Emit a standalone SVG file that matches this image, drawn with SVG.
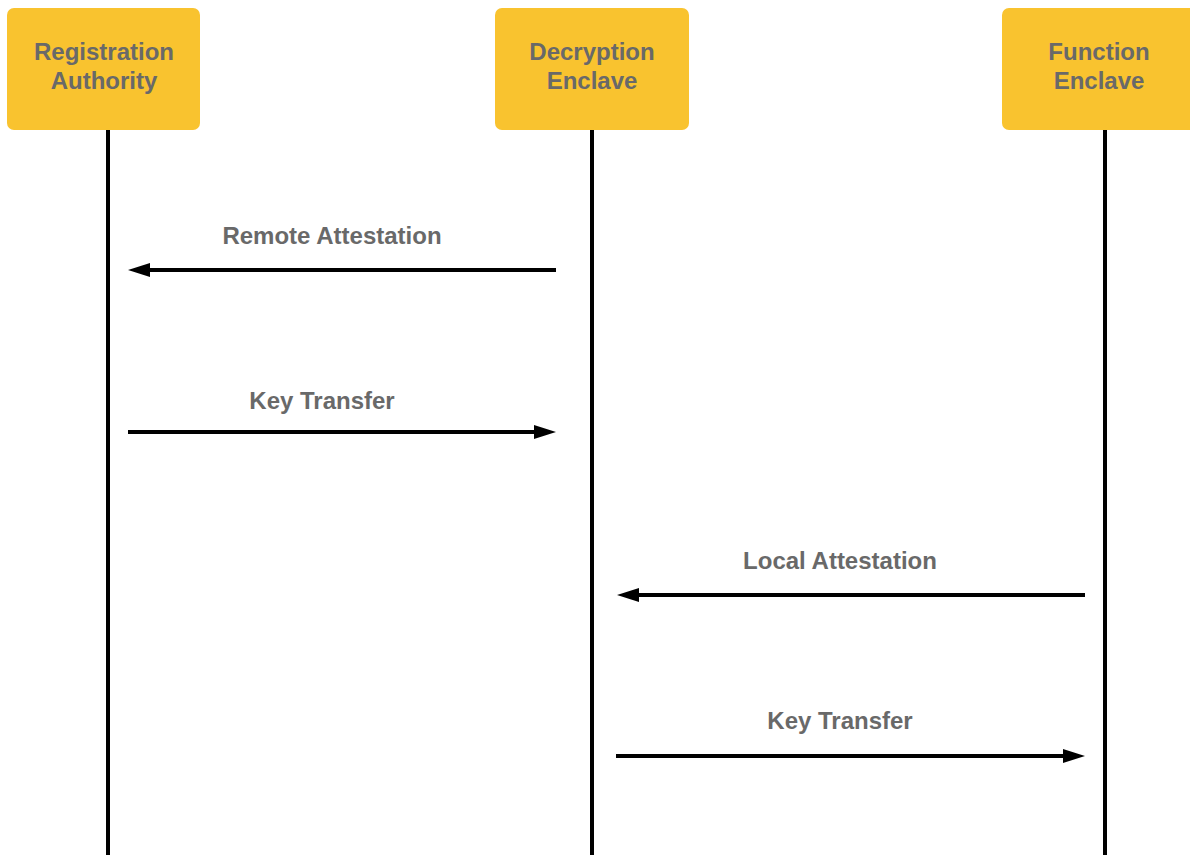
<svg xmlns="http://www.w3.org/2000/svg" width="1190" height="855" viewBox="0 0 1190 855">
<style>
.box{fill:#F9C32F;}
.lbl{font-family:"Liberation Sans",Arial,sans-serif;font-weight:bold;font-size:24px;fill:#696969;text-anchor:middle;}
.life{stroke:#000;stroke-width:4;fill:none;}
.msg{stroke:#000;stroke-width:4;fill:none;marker-end:url(#ah);}
</style>
<defs>
<marker id="ah" markerUnits="userSpaceOnUse" markerWidth="24" markerHeight="16" refX="10" refY="7" orient="auto">
<path d="M0,0 L22,7 L0,14 Z" fill="#000"/>
</marker>
</defs>
<rect width="1190" height="855" fill="#fff"/>
<g id="lifelines">
<line class="life" x1="108" y1="128" x2="108" y2="855"/>
<line class="life" x1="592" y1="128" x2="592" y2="855"/>
<line class="life" x1="1105" y1="128" x2="1105" y2="855"/>
</g>
<g id="registration-authority">
<rect class="box" x="7" y="8" width="193" height="122" rx="7"/>
<text class="lbl" x="104" y="60">Registration</text>
<text class="lbl" x="104" y="89">Authority</text>
</g>
<g id="decryption-enclave">
<rect class="box" x="495" y="8" width="194" height="122" rx="7"/>
<text class="lbl" x="592" y="60">Decryption</text>
<text class="lbl" x="592" y="89">Enclave</text>
</g>
<g id="function-enclave">
<rect class="box" x="1002" y="8" width="206" height="122" rx="7"/>
<text class="lbl" x="1099" y="60">Function</text>
<text class="lbl" x="1099" y="89">Enclave</text>
</g>
<g id="connectors">
<line class="msg" x1="556" y1="270" x2="140" y2="270"/>
<text class="lbl" x="332" y="244">Remote Attestation</text>
<line class="msg" x1="128" y1="432" x2="544" y2="432"/>
<text class="lbl" x="322" y="409">Key Transfer</text>
<line class="msg" x1="1085" y1="595" x2="629" y2="595"/>
<text class="lbl" x="840" y="569">Local Attestation</text>
<line class="msg" x1="616" y1="756" x2="1073" y2="756"/>
<text class="lbl" x="840" y="729">Key Transfer</text>
</g>
</svg>
